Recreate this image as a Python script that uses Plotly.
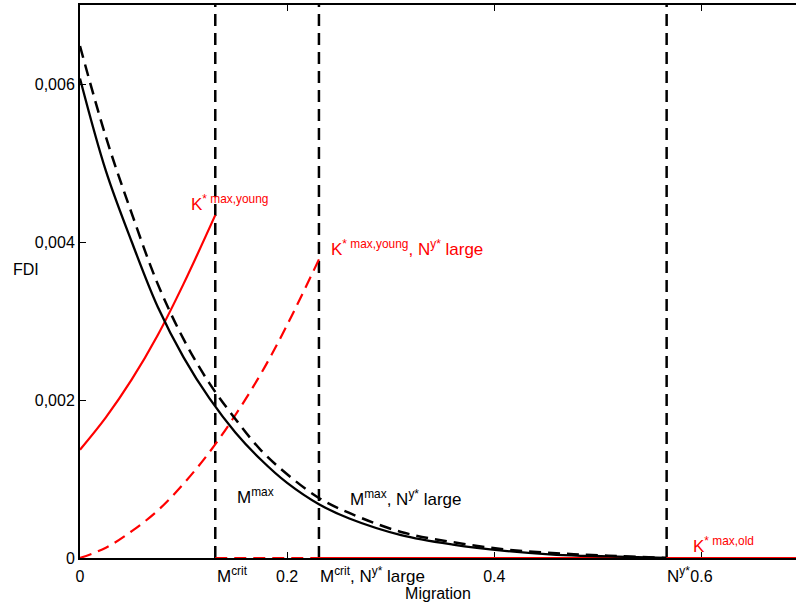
import plotly.graph_objects as go

# ---- data ----
# black solid curve (M^max)
x_mmax = [0, 0.025, 0.05, 0.075, 0.1, 0.125, 0.15, 0.175, 0.2, 0.2307, 0.26, 0.31, 0.36, 0.41, 0.46, 0.51, 0.566]
y_mmax = [0.00607, 0.00490, 0.00400, 0.00318, 0.00254, 0.00202, 0.00159, 0.00124, 0.00095, 0.00068,
          0.00050, 0.00029, 0.00017, 0.00009, 0.00004, 0.00002, 0.0]

# black dashed curve (M^max, N^y* large)
x_mmax_l = [0, 0.025, 0.05, 0.075, 0.1, 0.125, 0.15, 0.175, 0.2, 0.2307, 0.26, 0.31, 0.36, 0.41, 0.46, 0.51, 0.566]
y_mmax_l = [0.00648, 0.00533, 0.00436, 0.00347, 0.00277, 0.00221, 0.00176, 0.00136, 0.00106, 0.00076,
            0.00057, 0.00033, 0.00020, 0.00011, 0.00006, 0.00003, 0.0]

# red solid curve (K* max,young)
x_ky = [0, 0.025, 0.05, 0.075, 0.1, 0.1306]
y_ky = [0.00137, 0.00178, 0.00226, 0.00282, 0.00347, 0.00434]

# red dashed curve (K* max,young, N^y* large)
x_ky_l = [0, 0.025, 0.05, 0.075, 0.1, 0.125, 0.15, 0.175, 0.2, 0.2307]
y_ky_l = [0.0, 0.00013, 0.00034, 0.00060, 0.00094, 0.00134, 0.00181, 0.00234, 0.00295, 0.00378]

# red zero segments
x_zero_dash = [0.1306, 0.2307]
y_zero_dash = [0.0, 0.0]
x_zero_solid = [0.2307, 0.6913]
y_zero_solid = [0.0, 0.0]

# vertical markers
vline_x = [0.1306, 0.2307, 0.5664]

x_ticks = [0, 0.2, 0.4, 0.6]
x_tick_labels = ["0", "0.2", "0.4", "0.6"]
y_ticks = [0, 0.002, 0.004, 0.006]
y_tick_labels = ["0", "0,002", "0,004", "0,006"]

X_RANGE = [0, 0.6913]
Y_RANGE = [0, 0.007]

FONT = "Liberation Sans, Arial, sans-serif"
DASH = "12px,7px"
RED = "#ff0000"

fig = go.Figure()

for vx in vline_x:
    fig.add_trace(go.Scatter(x=[vx, vx], y=Y_RANGE, mode="lines",
                             line=dict(color="black", width=2.5, dash=DASH),
                             showlegend=False, hoverinfo="skip"))

fig.add_trace(go.Scatter(x=x_zero_dash, y=y_zero_dash, mode="lines",
                         line=dict(color=RED, width=2.2, dash=DASH), showlegend=False))
fig.add_trace(go.Scatter(x=x_zero_solid, y=y_zero_solid, mode="lines",
                         line=dict(color=RED, width=2.2), showlegend=False))

fig.add_trace(go.Scatter(x=x_ky, y=y_ky, mode="lines", line_shape="spline",
                         line=dict(color=RED, width=2.2), showlegend=False))
fig.add_trace(go.Scatter(x=x_ky_l, y=y_ky_l, mode="lines", line_shape="spline",
                         line=dict(color=RED, width=2.2, dash=DASH), showlegend=False))
fig.add_trace(go.Scatter(x=x_mmax, y=y_mmax, mode="lines", line_shape="spline",
                         line=dict(color="black", width=2.3), showlegend=False))
fig.add_trace(go.Scatter(x=x_mmax_l, y=y_mmax_l, mode="lines", line_shape="spline",
                         line=dict(color="black", width=2.5, dash=DASH), showlegend=False))

# labels inside the plot (data coordinates)
ann_in = [
    dict(text="K<sup>* max,young</sup>", x=0.1050, y=0.00450, color=RED),
    dict(text="K<sup>* max,young</sup>, N<sup>y*</sup> large", x=0.2400, y=0.00392, color=RED),
    dict(text="M<sup>max</sup>", x=0.1495, y=0.00079, color="black"),
    dict(text="M<sup>max</sup>, N<sup>y*</sup> large", x=0.2585, y=0.00076, color="black"),
    dict(text="K<sup>* max,old</sup>", x=0.5900, y=0.00016, color=RED),
]
for a in ann_in:
    fig.add_annotation(x=a["x"], y=a["y"], xref="x", yref="y", text=a["text"],
                       showarrow=False, xanchor="left", yanchor="middle",
                       font=dict(family=FONT, size=17, color=a["color"]))

# labels under the x axis (x in data, y in paper)
ann_out = [
    dict(text="M<sup>crit</sup>", x=0.1300),
    dict(text="M<sup>crit</sup>, N<sup>y*</sup> large", x=0.2300),
    dict(text="N<sup>y*</sup>", x=0.5650),
]
for a in ann_out:
    fig.add_annotation(x=a["x"], y=-0.031, xref="x", yref="paper",
                       text=a["text"], showarrow=False, xanchor="left", yanchor="middle",
                       font=dict(family=FONT, size=17, color="black"))

fig.add_annotation(x=-0.0964, y=0.521, xref="paper", yref="paper", text="FDI",
                   showarrow=False, xanchor="left", yanchor="middle",
                   font=dict(family=FONT, size=16, color="black"))

fig.update_layout(
    width=796, height=612,
    margin=dict(l=80, r=0, t=5, b=54),
    paper_bgcolor="white", plot_bgcolor="white",
    font=dict(family=FONT, size=16, color="black"),
    xaxis=dict(range=X_RANGE, tickvals=x_ticks, ticktext=x_tick_labels,
               showgrid=False, zeroline=False, showline=True, linecolor="black",
               linewidth=2, mirror="ticks", ticks="inside", ticklen=6, tickcolor="black",
               layer="below traces", automargin=False, ticklabelstandoff=3,
               title=dict(text="Migration", standoff=4, font=dict(size=16))),
    yaxis=dict(range=Y_RANGE, tickvals=y_ticks, ticktext=y_tick_labels,
               showgrid=False, zeroline=False, showline=True, linecolor="black",
               linewidth=2, mirror=False, ticks="inside", ticklen=6, tickcolor="black",
               layer="below traces", automargin=False),
)

fig.write_html("out.html", config={"displayModeBar": False},
               post_script="document.body.style.margin='0px';document.body.style.overflow='hidden';")
